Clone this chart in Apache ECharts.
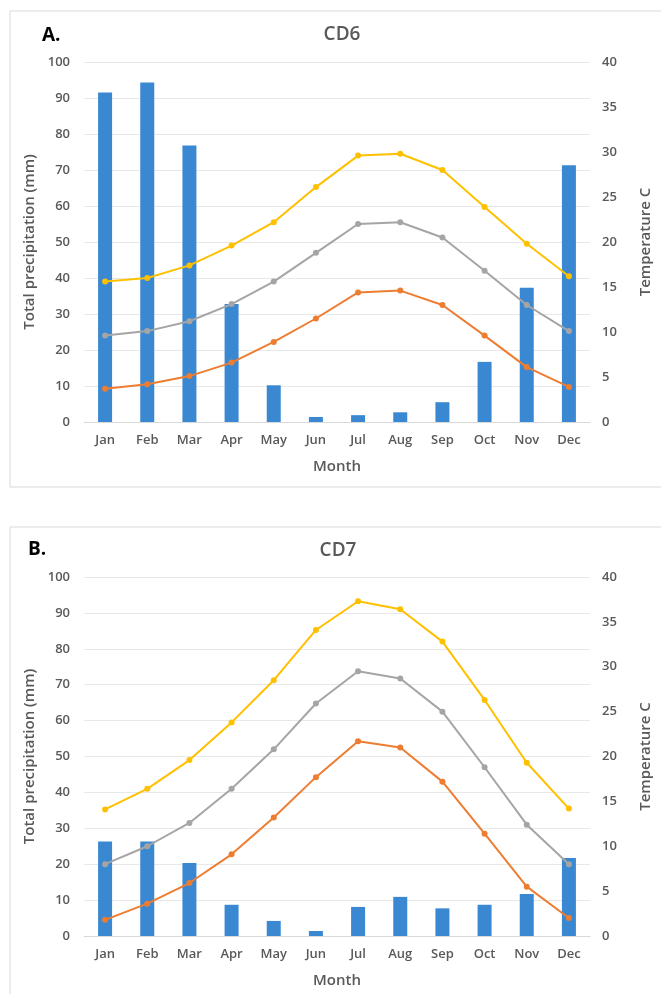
<!DOCTYPE html>
<html>
<head>
<meta charset="utf-8">
<script src="https://cdn.jsdelivr.net/npm/echarts@6/dist/echarts.min.js"></script>
<style>
  html, body { margin: 0; padding: 0; background: #fff; }
  #chart { width: 661px; height: 994px; }
</style>
</head>
<body>
<div id="chart"></div>
<script>
const months = ['Jan', 'Feb', 'Mar', 'Apr', 'May', 'Jun', 'Jul', 'Aug', 'Sep', 'Oct', 'Nov', 'Dec'];
const precipTicks = [0, 100, 10];
const tempTicks = [0, 40, 5];

// CD6
const cd6Precip = [91.5, 94.3, 76.8, 32.8, 10.2, 1.4, 1.9, 2.7, 5.5, 16.7, 37.3, 71.3];
const cd6Max = [15.6, 16.0, 17.4, 19.6, 22.2, 26.1, 29.6, 29.8, 28.0, 23.9, 19.8, 16.2];
const cd6Mean = [9.6, 10.1, 11.2, 13.1, 15.6, 18.8, 22.0, 22.2, 20.5, 16.8, 13.0, 10.1];
const cd6Min = [3.7, 4.2, 5.1, 6.6, 8.9, 11.5, 14.4, 14.6, 13.0, 9.6, 6.1, 3.9];

// CD7
const cd7Precip = [26.3, 26.3, 20.3, 8.7, 4.2, 1.4, 8.1, 10.9, 7.7, 8.7, 11.7, 21.7];
const cd7Max = [14.1, 16.4, 19.6, 23.8, 28.5, 34.1, 37.3, 36.4, 32.8, 26.3, 19.3, 14.2];
const cd7Mean = [8.0, 10.0, 12.6, 16.4, 20.8, 25.9, 29.5, 28.7, 25.0, 18.8, 12.4, 8.0];
const cd7Min = [1.8, 3.6, 5.9, 9.1, 13.2, 17.7, 21.7, 21.0, 17.2, 11.4, 5.5, 2.0];

const labelColor = '#595959';
const fontFam = '"Open Sans", Lato, sans-serif';

const xAxisFor = (gi) => ({
  type: 'category',
  gridIndex: gi,
  data: months,
  name: 'Month',
  nameLocation: 'middle',
  nameGap: 37,
  nameTextStyle: { color: labelColor, fontSize: 15, fontWeight: 600, fontFamily: fontFam },
  axisLine: { lineStyle: { color: '#d9d9d9' } },
  axisTick: { show: false },
  axisLabel: { color: labelColor, fontSize: 13, fontWeight: 600, fontFamily: fontFam, margin: 12 }
});

const leftAxisFor = (gi) => ({
  type: 'value',
  gridIndex: gi,
  min: precipTicks[0],
  max: precipTicks[1],
  interval: precipTicks[2],
  name: 'Total precipitation (mm)',
  nameLocation: 'middle',
  nameRotate: 90,
  nameGap: 44,
  nameTextStyle: { color: labelColor, fontSize: 15, fontWeight: 600, fontFamily: fontFam },
  axisLine: { show: false },
  axisTick: { show: false },
  splitLine: { lineStyle: { color: '#e8e8e8' } },
  axisLabel: { color: labelColor, fontSize: 13, fontWeight: 600, fontFamily: fontFam, margin: 14 }
});

const rightAxisFor = (gi) => ({
  type: 'value',
  gridIndex: gi,
  position: 'right',
  min: tempTicks[0],
  max: tempTicks[1],
  interval: tempTicks[2],
  name: 'Temperature C',
  nameLocation: 'middle',
  nameRotate: 90,
  nameGap: 48,
  nameTextStyle: { color: labelColor, fontSize: 15, fontWeight: 600, fontFamily: fontFam },
  axisLine: { show: false },
  axisTick: { show: false },
  splitLine: { show: false },
  axisLabel: { color: labelColor, fontSize: 13, fontWeight: 600, fontFamily: fontFam, margin: 12 }
});

const lineFor = (data, color, xi, yi) => ({
  type: 'line',
  xAxisIndex: xi,
  yAxisIndex: yi,
  data: data,
  symbol: 'circle',
  symbolSize: 6,
  lineStyle: { color: color, width: 2 },
  itemStyle: { color: color },
  z: 3
});

const barFor = (data, xi, yi) => ({
  type: 'bar',
  xAxisIndex: xi,
  yAxisIndex: yi,
  data: data,
  barWidth: 14,
  itemStyle: { color: '#3b88d2' },
  z: 2
});

const option = {
  backgroundColor: '#fff',
  animation: false,
  title: [
    { text: 'CD6', left: 337, top: 20, textAlign: 'center',
      textStyle: { color: labelColor, fontSize: 19, fontWeight: 600, fontFamily: fontFam } },
    { text: 'CD7', left: 333, top: 536, textAlign: 'center',
      textStyle: { color: labelColor, fontSize: 19, fontWeight: 600, fontFamily: fontFam } },
    { text: 'A.', left: 37, top: 21,
      textStyle: { color: '#000', fontSize: 19, fontWeight: 'bold', fontFamily: fontFam } },
    { text: 'B.', left: 23, top: 535,
      textStyle: { color: '#000', fontSize: 19, fontWeight: 'bold', fontFamily: fontFam } }
  ],
  graphic: [
    { type: 'rect', shape: { x: 10, y: 11, width: 660, height: 476 },
      style: { fill: 'none', stroke: '#d9d9d9', lineWidth: 1 }, silent: true },
    { type: 'rect', shape: { x: 10, y: 527, width: 660, height: 480 },
      style: { fill: 'none', stroke: '#d9d9d9', lineWidth: 1 }, silent: true }
  ],
  grid: [
    { left: 84, top: 62, width: 519, height: 360 },
    { left: 84, top: 577, width: 515, height: 359 }
  ],
  xAxis: [xAxisFor(0), xAxisFor(1)],
  yAxis: [leftAxisFor(0), rightAxisFor(0), leftAxisFor(1), rightAxisFor(1)],
  series: [
    barFor(cd6Precip, 0, 0),
    lineFor(cd6Max, '#ffc000', 0, 1),
    lineFor(cd6Mean, '#a5a5a5', 0, 1),
    lineFor(cd6Min, '#ed7d31', 0, 1),
    barFor(cd7Precip, 1, 2),
    lineFor(cd7Max, '#ffc000', 1, 3),
    lineFor(cd7Mean, '#a5a5a5', 1, 3),
    lineFor(cd7Min, '#ed7d31', 1, 3)
  ]
};

const myChart = echarts.init(document.getElementById('chart'));
myChart.setOption(option);
</script>
</body>
</html>
